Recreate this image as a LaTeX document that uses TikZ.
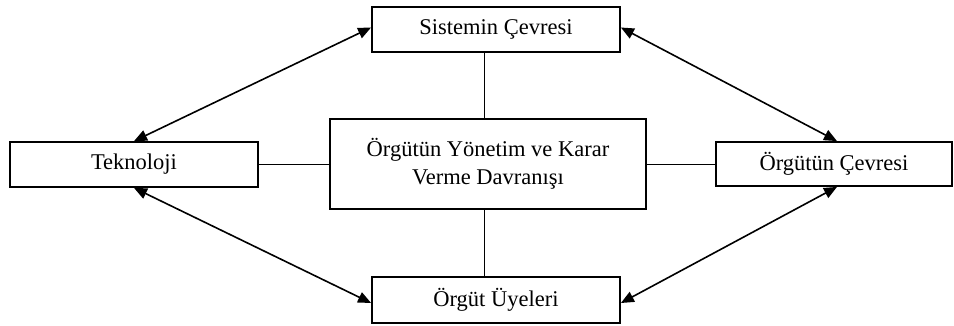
\documentclass[tikz,border=0pt]{standalone}
\usepackage{fontspec}
\setmainfont{Liberation Serif}
\usetikzlibrary{arrows.meta}
\begin{document}
\begin{tikzpicture}[x=1pt,y=-1pt,
  box/.style={draw,line width=1.8pt,inner sep=0pt,align=center,
    font=\fontsize{22.5}{28}\selectfont},
  link/.style={line width=1.8pt},
  dbl/.style={line width=1.6pt,{Triangle[length=13pt,width=11pt]}-{Triangle[length=13pt,width=11pt]}}]
  \useasboundingbox (0,0) rectangle (954,326);
  % boxes
  \node[box,minimum width=248pt,minimum height=45pt] (top) at (496,29.5) {Sistemin Çevresi};
  \node[box,minimum width=248pt,minimum height=45pt] (tek) at (134,164.5) {Teknoloji};
  \node[box,minimum width=316pt,minimum height=90pt] (mid) at (488,164) {Örgütün Yönetim ve Karar\\Verme Davranışı};
  \node[box,minimum width=236pt,minimum height=44pt] (env) at (834,164) {Örgütün Çevresi};
  \node[box,minimum width=248pt,minimum height=46pt] (mem) at (496,300) {Örgüt Üyeleri};
  % plain links to the central box
  \draw[link] ([xshift=-3.5pt]mid.north) -- ([xshift=-3.5pt]mid.north |- top.south);
  \draw[link] ([xshift=-3.5pt]mid.south) -- ([xshift=-3.5pt]mid.south |- mem.north);
  \draw[link] ([yshift=-0.5pt]mid.west) -- ([yshift=-0.5pt]mid.west -| tek.east);
  \draw[link] ([yshift=-0.5pt]mid.east) -- ([yshift=-0.5pt]mid.east -| env.west);
  % two-way arrows around the outside
  \draw[dbl] (tek.north) -- ([yshift=2pt]top.west);
  \draw[dbl] ([yshift=2pt]top.east) -- ([xshift=3pt]env.north);
  \draw[dbl] (tek.south) -- ([yshift=-3pt]mem.west);
  \draw[dbl] ([yshift=-3pt]mem.east) -- ([xshift=3pt]env.south);
\end{tikzpicture}
\end{document}
